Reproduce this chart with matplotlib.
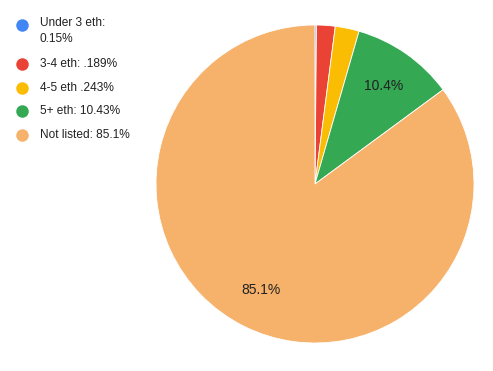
import matplotlib.pyplot as plt

plt.rcParams['font.family'] = ['Liberation Sans', 'DejaVu Sans']

labels = ["Under 3 eth:\n0.15%", "3-4 eth: .189%", "4-5 eth .243%",
          "5+ eth: 10.43%", "Not listed: 85.1%"]
values = [0.15, 1.89, 2.43, 10.43, 85.1]
colors = ["#4285F4", "#EA4335", "#FBBC04", "#34A853", "#F6B26B"]

W, H = 493, 371
fig = plt.figure(figsize=(W / 100, H / 100), dpi=100)

# pie axes: centre (315,184) px, radius 159 px
cx, cy, r = 315, 184, 159
ax = fig.add_axes([(cx - r) / W, (H - cy - r) / H, 2 * r / W, 2 * r / H])
ax.pie(values, colors=colors, startangle=90, counterclock=False,
       autopct=lambda p: f"{p:.1f}%" if p > 5 else "", pctdistance=0.75,
       wedgeprops=dict(edgecolor="white", linewidth=0.6),
       textprops=dict(fontsize=10, color="#222222"))
ax.set_xlim(-1, 1)
ax.set_ylim(-1, 1)
ax.set_aspect("auto")

# legend drawn in pixel coordinates
lax = fig.add_axes([0, 0, 1, 1])
lax.set_xlim(0, W)
lax.set_ylim(H, 0)
lax.axis("off")
rows = [25, 64, 88, 111, 135]
for lab, col, y in zip(labels, colors, rows):
    lax.plot(22, y, "o", color=col, markersize=9, markeredgewidth=0)
    if "\n" in lab:
        lax.text(40, y - 8, lab, fontsize=8.6, color="#222222", va="top",
                 linespacing=1.45)
    else:
        lax.text(40, y, lab, fontsize=8.6, color="#222222", va="center")

fig.savefig("out.png", dpi=100)
